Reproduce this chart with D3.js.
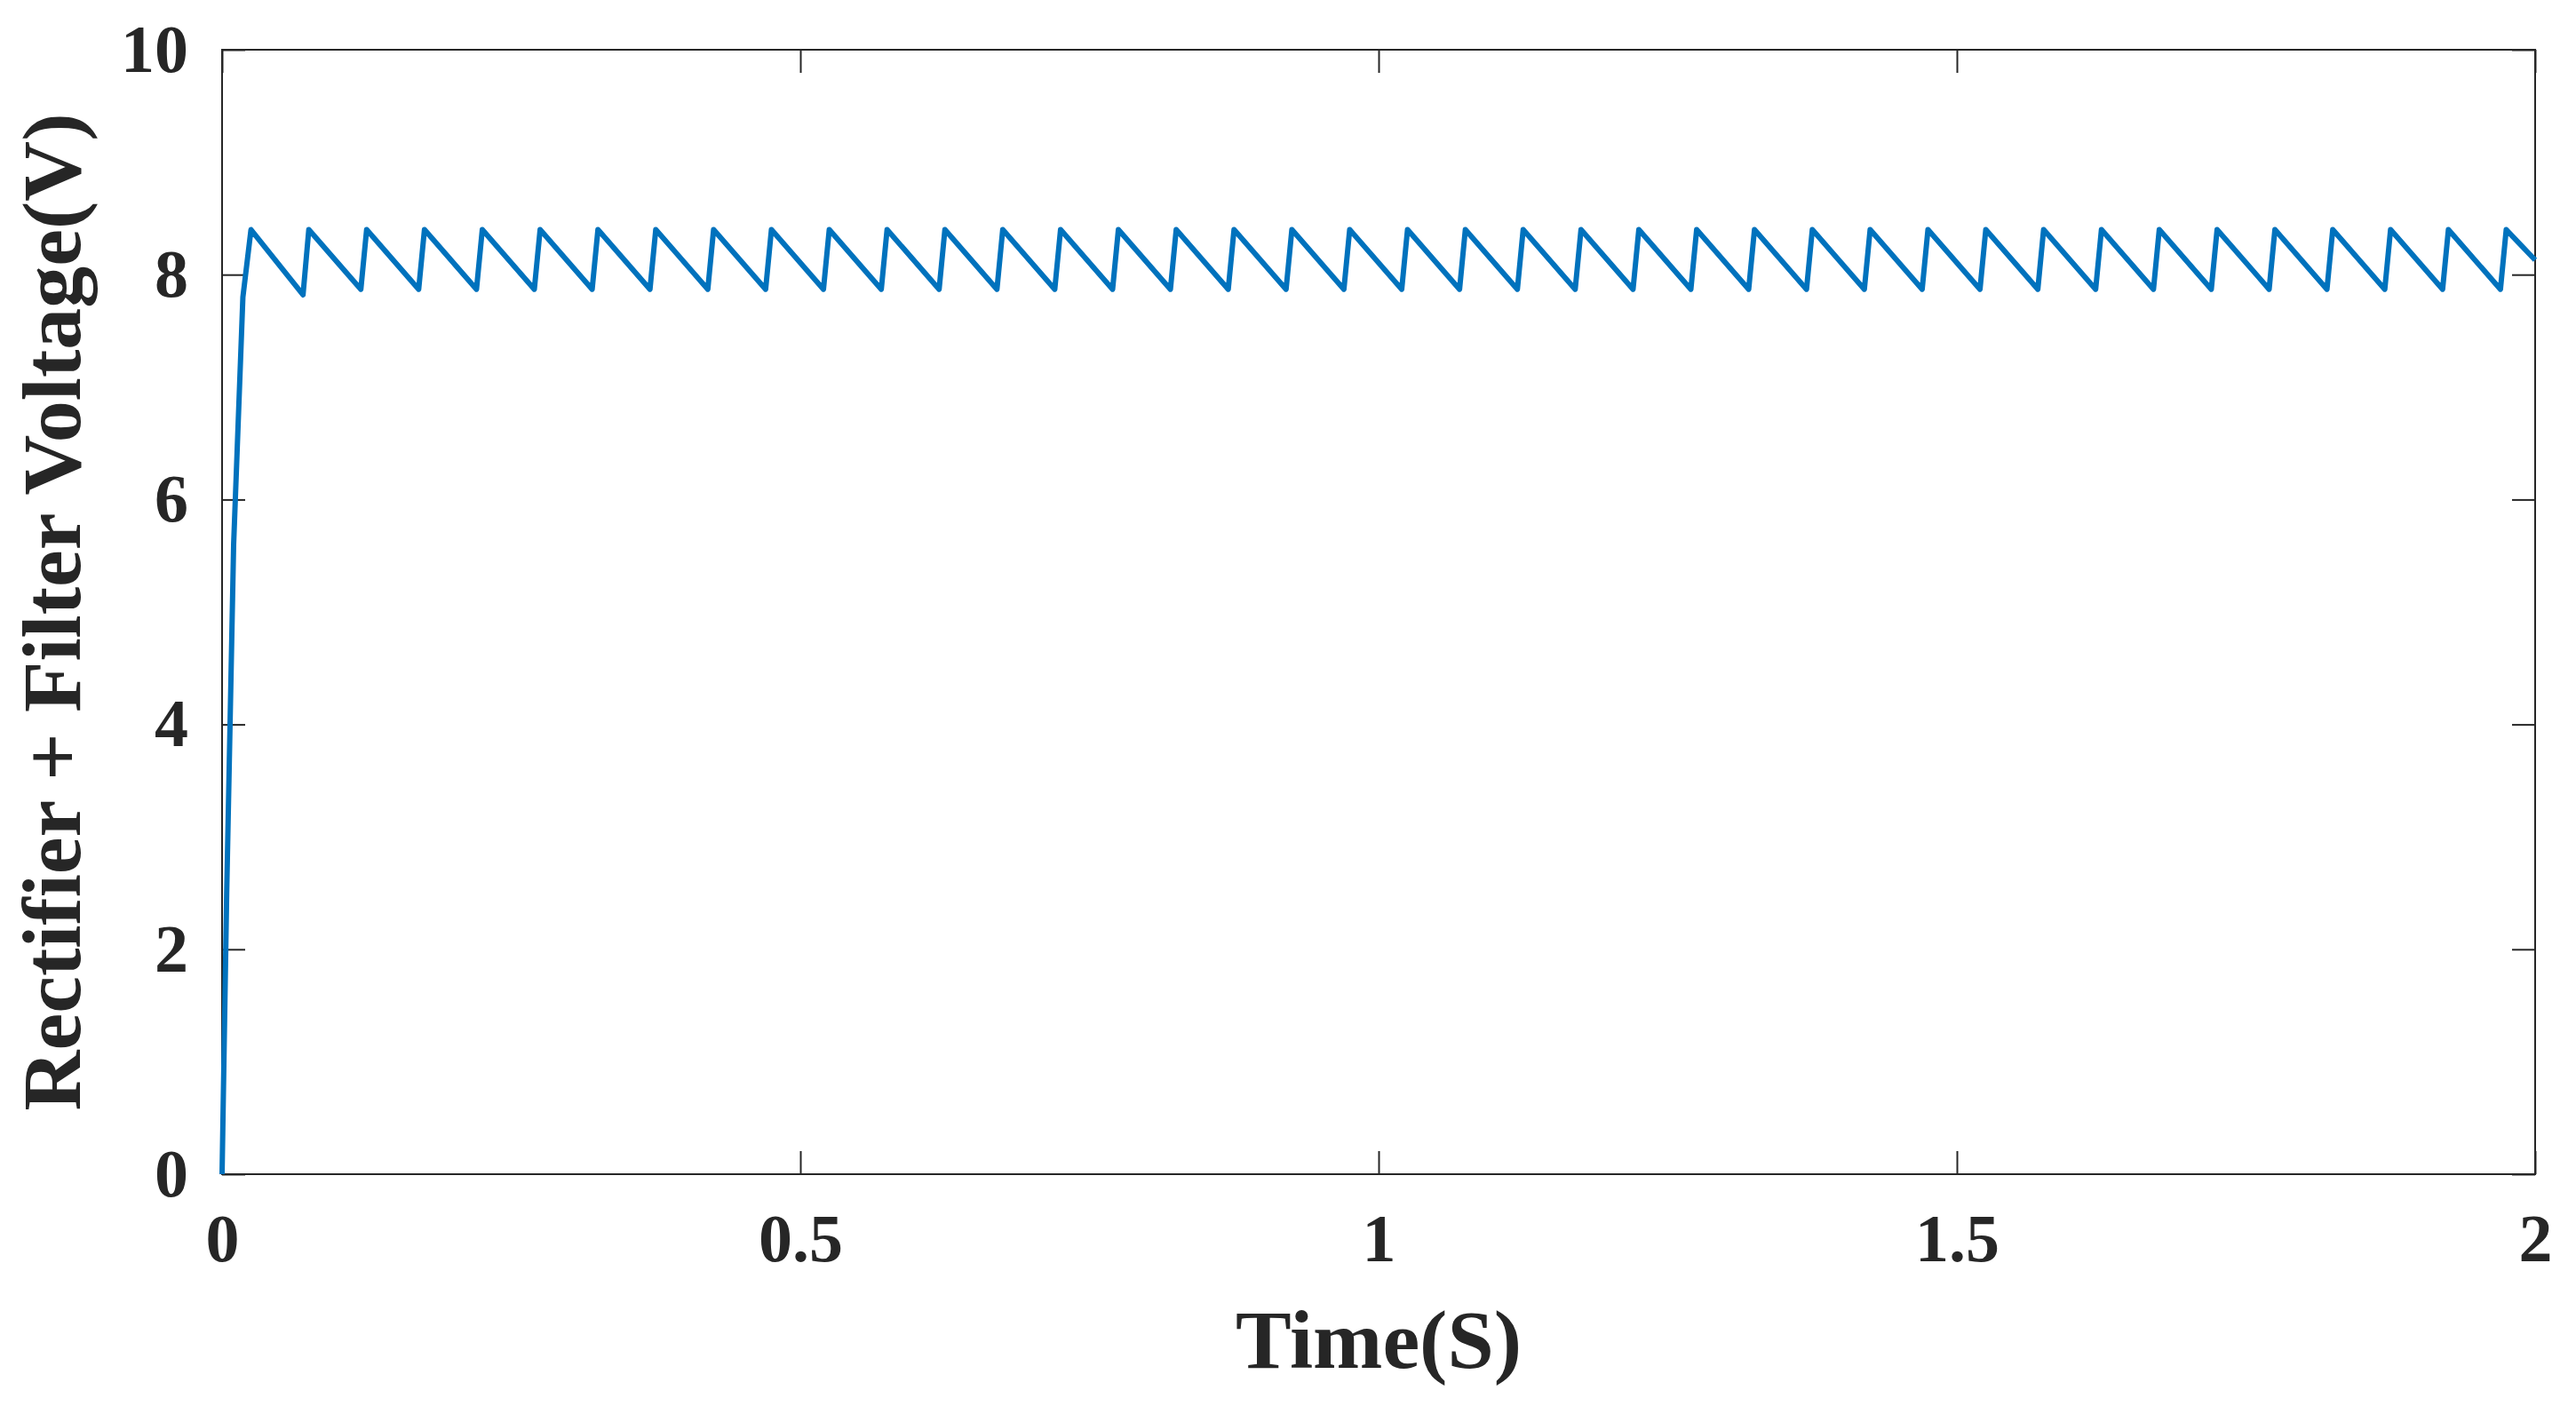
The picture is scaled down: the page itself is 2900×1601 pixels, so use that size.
<!DOCTYPE html>
<html>
<head>
<meta charset="utf-8">
<script src="https://cdn.jsdelivr.net/npm/d3@7"></script>
<style>
  body { margin: 0; background: #fff; }
  text { font-family: "Liberation Serif", "Times New Roman", serif; font-weight: bold; fill: #262626; }
</style>
</head>
<body>
<svg id="chart" width="2900" height="1601"></svg>
<script>
// time (s) and voltage (V)
const time = [0, 0.004, 0.01, 0.018, 0.025,
  0.07, 0.075, 0.12, 0.125, 0.17, 0.175, 0.22, 0.225, 0.27, 0.275, 0.32, 0.325, 0.37, 0.375,
  0.42, 0.425, 0.47, 0.475, 0.52, 0.525, 0.57, 0.575, 0.62, 0.625, 0.67, 0.675, 0.72, 0.725,
  0.77, 0.775, 0.82, 0.825, 0.87, 0.875, 0.92, 0.925, 0.97, 0.975, 1.02, 1.025, 1.07, 1.075,
  1.12, 1.125, 1.17, 1.175, 1.22, 1.225, 1.27, 1.275, 1.32, 1.325, 1.37, 1.375, 1.42, 1.425,
  1.47, 1.475, 1.52, 1.525, 1.57, 1.575, 1.62, 1.625, 1.67, 1.675, 1.72, 1.725, 1.77, 1.775,
  1.82, 1.825, 1.87, 1.875, 1.92, 1.925, 1.97, 1.975, 2.0];
const volt = [0, 2.5, 5.6, 7.8, 8.4,
  7.82, 8.4, 7.87, 8.4, 7.87, 8.4, 7.87, 8.4, 7.87, 8.4, 7.87, 8.4, 7.87, 8.4,
  7.87, 8.4, 7.87, 8.4, 7.87, 8.4, 7.87, 8.4, 7.87, 8.4, 7.87, 8.4, 7.87, 8.4,
  7.87, 8.4, 7.87, 8.4, 7.87, 8.4, 7.87, 8.4, 7.87, 8.4, 7.87, 8.4, 7.87, 8.4,
  7.87, 8.4, 7.87, 8.4, 7.87, 8.4, 7.87, 8.4, 7.87, 8.4, 7.87, 8.4, 7.87, 8.4,
  7.87, 8.4, 7.87, 8.4, 7.87, 8.4, 7.87, 8.4, 7.87, 8.4, 7.87, 8.4, 7.87, 8.4,
  7.87, 8.4, 7.87, 8.4, 7.87, 8.4, 7.87, 8.4, 8.13];
const xTicks = [0, 0.5, 1, 1.5, 2];
const yTicks = [0, 2, 4, 6, 8, 10];

const svg = d3.select('#chart');
const m = { left: 250, right: 46, top: 56, bottom: 279 };
const W = 2900 - m.left - m.right, H = 1601 - m.top - m.bottom;
const g = svg.append('g').attr('transform', `translate(${m.left},${m.top})`);

const x = d3.scaleLinear().domain([0, 2]).range([0, W]);
const y = d3.scaleLinear().domain([0, 10]).range([H, 0]);
const tk = 26;

// box
g.append('rect').attr('width', W).attr('height', H)
	.attr('fill', 'none').attr('stroke', '#262626').attr('stroke-width', 2);

// axes, ticks pointing inward
const styleAxis = (a) => {
	a.select('.domain').remove();
	a.selectAll('line').attr('stroke', '#262626').attr('stroke-width', 2);
	a.selectAll('text').attr('font-size', 76);
};
g.append('g').attr('transform', `translate(0,${H})`)
	.call(d3.axisBottom(x).tickValues(xTicks).tickFormat(d3.format('')).tickSizeInner(-tk).tickPadding(tk + 18))
	.call(styleAxis);
g.append('g')
	.call(d3.axisTop(x).tickValues(xTicks).tickFormat('').tickSizeInner(-tk))
	.call(styleAxis);
g.append('g')
	.call(d3.axisLeft(y).tickValues(yTicks).tickSizeInner(-tk).tickPadding(tk + 12))
	.call(styleAxis);
g.append('g').attr('transform', `translate(${W},0)`)
	.call(d3.axisRight(y).tickValues(yTicks).tickFormat('').tickSizeInner(-tk))
	.call(styleAxis);

// trace
g.append('path')
	.datum(time.map((t, i) => [t, volt[i]]))
	.attr('fill', 'none').attr('stroke', '#0072BD').attr('stroke-width', 6)
	.attr('stroke-linejoin', 'round')
	.attr('d', d3.line().x((d) => x(d[0])).y((d) => y(d[1])));

// labels
g.append('text').attr('x', W / 2).attr('y', H + 218).attr('text-anchor', 'middle')
	.attr('font-size', 94).text('Time(S)');
g.append('text').attr('transform', `translate(-160,${H / 2}) rotate(-90)`)
	.attr('text-anchor', 'middle').attr('font-size', 94).text('Rectifier + Filter Voltage(V)');
</script>
</body>
</html>
